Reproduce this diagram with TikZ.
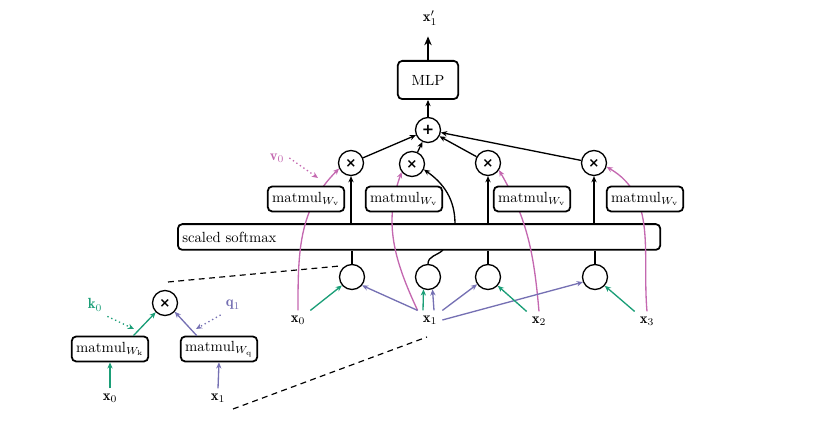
\documentclass[tikz,border=0pt]{standalone}
\usepackage{amsmath}
\usepackage{fontspec}
\newfontfamily\opfont{DejaVu Sans}[BoldFont={DejaVu Sans Bold}]
\usepackage{tikz}
\usetikzlibrary{arrows.meta,calc}
\definecolor{keycol}{RGB}{27,158,119}
\definecolor{querycol}{RGB}{117,112,179}
\definecolor{valcol}{RGB}{196,104,176}
\newcommand{\opmul}{{\opfont\bfseries\fontsize{9}{9}\selectfont ×}}
\newcommand{\opadd}{{\opfont\bfseries\fontsize{10}{10}\selectfont +}}

\begin{document}
\begin{tikzpicture}[x=0.68pt, y=0.68pt,
    >={Stealth[length=4.2pt,width=3.6pt]},
    block/.style={draw, line width=1.2pt, rounded corners=3pt, inner sep=3pt, minimum height=17pt, fill=white},
    op/.style={draw, circle, line width=0.9pt, minimum size=17pt, inner sep=0pt},
    link/.style={line width=0.9pt},
    keyarrow/.style={link, keycol, ->},
    qryarrow/.style={link, querycol, ->},
    valarrow/.style={link, valcol, ->},
    hint/.style={link, dotted, ->},
    zoomline/.style={line width=0.8pt, dash pattern=on 4pt off 3pt}]

    \useasboundingbox (0,0) rectangle (822,422);

    % Softmax over the scores
    \node[block, anchor=west, text width=322pt, minimum height=17.5pt, align=left] (smax) at (177,185) {scaled softmax};

    % Scores (one per input token)
    \node[op] (s1) at (352,145) {};
    \node[op] (s2) at (428,145) {};
    \node[op] (s3) at (488,145) {};
    \node[op] (s4) at (595,145) {};

    % Input tokens
    \node (x0) at (298,102) {$\mathbf{x}_0$};
    \node (x1) at (430,102) {$\mathbf{x}_1$};
    \node (x2) at (539,101) {$\mathbf{x}_2$};
    \node (x3) at (647,101) {$\mathbf{x}_3$};

    % Weighting and sum
    \node[op] (m1) at (351,259) {\opmul};
    \node[op] (m2) at (412,258) {\opmul};
    \node[op] (m3) at (488,259) {\opmul};
    \node[op] (m4) at (594,259) {\opmul};
    \node[op] (add) at (428,292) {\opadd};
    \node[block, minimum width=41pt, minimum height=26pt] (mlp) at (428,342) {MLP};
    \node (out) at (430,404) {$\mathbf{x}'_1$};

    % Values go under the matmul boxes
    \draw[valarrow] (x0.north) to[out=90, in=225] (m1.205);
    \draw[valarrow] (x1.north west) to[out=115, in=250] (m2.218);
    \draw[valarrow] (x2.north) to[out=95, in=300] (m3.-33);
    \draw[valarrow] (x3.north) to[out=95, in=330] (m4.-17);

    \node[block] (v1) at (306,223) {$\mathrm{matmul}_{W_\mathrm{v}}$};
    \node[block] (v2) at (404,223) {$\mathrm{matmul}_{W_\mathrm{v}}$};
    \node[block] (v3) at (532,223) {$\mathrm{matmul}_{W_\mathrm{v}}$};
    \node[block] (v4) at (645,223) {$\mathrm{matmul}_{W_\mathrm{v}}$};

    \node[valcol] (v0) at (277,264) {$\mathbf{v}_0$};
    \coordinate (v0hit) at (318,244);
    \draw[hint, valcol] (v0.east) -- (v0hit);

    % Keys and queries into the scores
    \draw[keyarrow] (x0.north east) -- (s1.220);
    \draw[qryarrow] (x1.north west) -- (s1.320);
    \draw[keyarrow] ($(x1.north)+(-7,0)$) -- (s2.250);
    \draw[qryarrow] ($(x1.north)+(4,0)$) -- (s2.290);
    \draw[qryarrow] (x1.north east) -- (s3.214);
    \draw[qryarrow] (x1.east) -- (s4.203);
    \draw[keyarrow] (x2.north west) -- (s3.318);
    \draw[keyarrow] (x3.north west) -- (s4.318);

    % Scores through the softmax
    \coordinate (s2top) at (443,172);
    \coordinate (w2) at (455,198);
    \draw[link] (s1.north) -- (s1.north |- smax.south);
    \draw[link] (s2.north) to[out=90, in=225] (s2top);
    \draw[link] (s3.north) -- (s3.north |- smax.south);
    \draw[link] (s4.north) -- (s4.north |- smax.south);
    \draw[link, ->] (smax.north -| m1) -- (m1.south);
    \draw[link, ->] (w2) to[out=90, in=-35] (m2.-25);
    \draw[link, ->] (smax.north -| m3) -- (m3.south);
    \draw[link, ->] (smax.north -| m4) -- (m4.south);

    % Sum and MLP
    \draw[link, ->] (m1) -- (add);
    \draw[link, ->] (m2) -- (add);
    \draw[link, ->] (m3) -- (add);
    \draw[link, ->] (m4) -- (add);
    \draw[link, ->] (add.north) -- (mlp.south);
    \draw[link, -{Stealth[length=6pt,width=5pt]}, shorten >=4pt] (mlp.north) -- (mlp.north |- out.south);

    % Close-up of one score
    \node[op] (im) at (165,119) {\opmul};
    \node[block] (wk) at (110,73) {$\mathrm{matmul}_{W_\mathrm{k}}$};
    \node[block] (wq) at (219,73) {$\mathrm{matmul}_{W_\mathrm{q}}$};
    \node (ix0) at (110,24) {$\mathbf{x}_0$};
    \node (ix1) at (218,24) {$\mathbf{x}_1$};
    \draw[keyarrow] (ix0.north) -- (wk.south);
    \draw[qryarrow] (ix1.north) -- (wq.south);
    \draw[keyarrow] ($(wk.north)!0.6!(wk.north east)$) -- (im.225);
    \draw[qryarrow] ($(wq.north)!0.57!(wq.north west)$) -- (im.318);

    \node[keycol] (k0) at (95,117) {$\mathbf{k}_0$};
    \node[querycol] (q1) at (233,117) {$\mathbf{q}_1$};
    \coordinate (k0hit) at (134,93);
    \coordinate (q1hit) at (196,93);
    \draw[hint, keycol] (k0.south east) -- (k0hit);
    \draw[hint, querycol] (q1.south west) -- (q1hit);

    % Dashed zoom lines
    \coordinate (zoomA) at (168,140);
    \coordinate (zoomB) at (340,156);
    \coordinate (zoomC) at (233,13);
    \coordinate (zoomD) at (427,85);
    \draw[zoomline] (zoomA) -- (zoomB);
    \draw[zoomline] (zoomC) -- (zoomD);

\end{tikzpicture}
\end{document}
